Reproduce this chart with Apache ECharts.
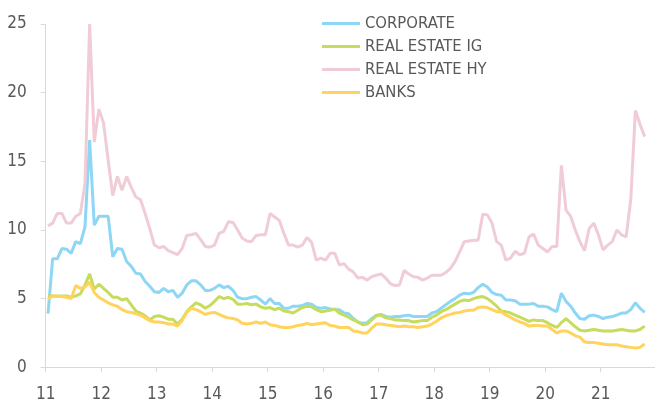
<!DOCTYPE html>
<html>
<head>
<meta charset="utf-8">
<script src="https://cdn.jsdelivr.net/npm/echarts@6/dist/echarts.min.js"></script>
<style>
html,body{margin:0;padding:0;background:#fff;}
#chart{width:655px;height:402px;}
</style>
</head>
<body>
<div id="chart"></div>
<script>
// Monthly observations, Jan 2011 .. Oct 2021
var startYear = 2011, startMonth = 1, monthCount = 130;
var months = [];
for (var i = 0; i < monthCount; i++) {
  var y = startYear + Math.floor((startMonth - 1 + i) / 12);
  var m = (startMonth - 1 + i) % 12 + 1;
  months.push(y + '-' + (m < 10 ? '0' : '') + m);
}

var seriesNames = ['CORPORATE', 'REAL ESTATE IG', 'REAL ESTATE HY', 'BANKS'];
var yTicks = [0, 5, 10, 15, 20, 25];
var xTickLabels = ['11','12','13','14','15','16','17','18','19','20','21'];

var corporate = [
3.9,7.9,7.9,8.65,8.6,8.3,9.15,9.0,10.25,16.55,
10.35,11.0,11.0,11.0,8.05,8.65,8.6,7.7,7.35,6.85,
6.8,6.25,5.9,5.5,5.45,5.75,5.5,5.6,5.1,5.4,
6.0,6.3,6.3,6.0,5.6,5.6,5.75,6.0,5.8,5.9,
5.6,5.1,5.0,5.0,5.1,5.15,4.9,4.6,5.0,4.65,
4.65,4.3,4.3,4.45,4.45,4.5,4.65,4.6,4.35,4.3,
4.35,4.25,4.2,4.2,3.95,3.9,3.55,3.3,3.2,3.25,
3.55,3.8,3.85,3.7,3.65,3.7,3.7,3.75,3.8,3.7,
3.7,3.7,3.7,3.95,4.05,4.3,4.55,4.8,5.0,5.25,
5.4,5.35,5.45,5.8,6.05,5.85,5.45,5.3,5.25,4.9,
4.9,4.85,4.6,4.6,4.6,4.65,4.45,4.45,4.4,4.2,
4.05,5.4,4.8,4.45,3.95,3.55,3.5,3.75,3.8,3.7,
3.55,3.65,3.7,3.8,3.95,3.95,4.2,4.7,4.3,4.0
];
var realEstateIG = [
5.2,5.2,5.2,5.2,5.2,5.1,5.2,5.35,6.0,6.8,
5.7,6.05,5.75,5.45,5.1,5.1,4.9,5.0,4.55,4.1,
3.95,3.75,3.45,3.7,3.75,3.65,3.5,3.5,3.15,3.5,
4.05,4.4,4.7,4.55,4.3,4.5,4.8,5.15,5.0,5.1,
4.95,4.6,4.6,4.65,4.55,4.6,4.4,4.3,4.35,4.2,
4.3,4.1,4.05,3.95,4.15,4.35,4.45,4.4,4.2,4.05,
4.1,4.15,4.25,3.95,3.8,3.65,3.45,3.3,3.1,3.15,
3.45,3.75,3.8,3.6,3.55,3.45,3.45,3.4,3.4,3.3,
3.35,3.4,3.4,3.65,3.8,4.05,4.2,4.4,4.6,4.8,
4.9,4.85,5.0,5.1,5.15,5.0,4.75,4.45,4.1,4.05,
3.95,3.8,3.65,3.5,3.35,3.45,3.4,3.4,3.25,3.05,
2.9,3.25,3.55,3.25,2.95,2.7,2.65,2.7,2.75,2.7,
2.65,2.65,2.65,2.7,2.75,2.7,2.65,2.65,2.75,3.0
];
var realEstateHY = [
10.3,10.5,11.2,11.2,10.5,10.5,11.0,11.2,13.4,25.0,
16.4,18.8,17.8,15.1,12.5,13.9,12.9,13.9,13.1,12.4,
12.2,11.2,10.1,8.9,8.7,8.8,8.5,8.35,8.2,8.65,
9.6,9.65,9.75,9.3,8.8,8.75,8.9,9.75,9.9,10.6,
10.55,10.0,9.4,9.2,9.15,9.6,9.65,9.65,11.2,10.95,
10.7,9.75,8.9,8.9,8.75,8.9,9.45,9.1,7.8,7.95,
7.8,8.3,8.3,7.45,7.55,7.15,6.95,6.5,6.55,6.35,
6.6,6.7,6.8,6.5,6.1,5.95,6.0,7.05,6.8,6.6,
6.55,6.35,6.5,6.7,6.7,6.7,6.9,7.2,7.7,8.4,
9.15,9.2,9.25,9.25,11.15,11.1,10.5,9.15,8.9,7.8,
7.95,8.45,8.2,8.3,9.5,9.7,8.9,8.65,8.4,8.8,
8.8,14.7,11.45,11.0,10.0,9.15,8.5,10.1,10.5,9.65,
8.55,8.9,9.15,10.0,9.65,9.5,12.2,18.7,17.7,16.8
];
var banks = [
4.95,5.2,5.15,5.15,5.1,5.0,5.95,5.75,5.85,6.2,
5.45,5.1,4.9,4.7,4.55,4.45,4.2,4.05,4.0,3.9,
3.8,3.6,3.4,3.3,3.3,3.25,3.15,3.15,3.0,3.4,
4.0,4.3,4.2,4.05,3.85,3.95,4.0,3.85,3.7,3.6,
3.55,3.45,3.2,3.15,3.2,3.3,3.2,3.3,3.1,3.05,
2.95,2.9,2.9,2.95,3.05,3.1,3.2,3.1,3.15,3.2,
3.25,3.05,3.0,2.9,2.9,2.9,2.65,2.6,2.5,2.5,
2.85,3.15,3.15,3.1,3.05,3.0,2.95,3.0,2.95,2.95,
2.9,2.95,3.0,3.15,3.35,3.6,3.75,3.85,3.95,4.0,
4.1,4.15,4.15,4.35,4.4,4.35,4.2,4.05,4.05,3.8,
3.65,3.45,3.3,3.2,3.0,3.05,3.05,3.0,3.0,2.75,
2.5,2.65,2.65,2.5,2.3,2.2,1.85,1.8,1.8,1.75,
1.7,1.65,1.65,1.65,1.55,1.5,1.45,1.4,1.45,1.7
];

var colors = ['#8dd7f5', '#c6dc5c', '#f0ccd6', '#ffd35c'];
var valuesList = [corporate, realEstateIG, realEstateHY, banks];

// month string -> position on a two-digit-year value axis (mid-month)
function monthPos(s) {
  var p = s.split('-');
  return (parseInt(p[0], 10) - 2000) + (parseInt(p[1], 10) - 0.5) / 12;
}

var series = seriesNames.map(function (name, idx) {
  return {
    name: name,
    type: 'line',
    symbol: 'none',
    smooth: false,
    lineStyle: { width: 3, color: colors[idx] },
    itemStyle: { color: colors[idx] },
    data: months.map(function (mo, i) { return [monthPos(mo), valuesList[idx][i]]; })
  };
});

var FONT = '"Liberation Sans Narrow", "DejaVu Sans Condensed", "Liberation Sans", sans-serif';
var chart = echarts.init(document.getElementById('chart'), null, { renderer: 'canvas' });
chart.setOption({
  animation: false,
  backgroundColor: '#ffffff',
  color: colors,
  textStyle: { fontFamily: FONT },
  grid: { left: 45.7, top: 24, width: 610.5, height: 343.3, containLabel: false, outerBoundsMode: 'none' },
  legend: {
    orient: 'vertical',
    left: 317,
    top: 10,
    icon: 'rect',
    itemWidth: 38,
    itemHeight: 3,
    itemGap: 6,
    data: seriesNames,
    textStyle: { color: '#595959', fontSize: 16.5, lineHeight: 17, fontFamily: FONT }
  },
  xAxis: {
    type: 'value',
    min: 11,
    max: 22,
    interval: 1,
    axisLine: { show: true, lineStyle: { color: '#d9d9d9', width: 1 } },
    axisTick: { show: true, length: 5, lineStyle: { color: '#d9d9d9' } },
    splitLine: { show: false },
    axisLabel: {
      color: '#595959', fontSize: 17, margin: 19, fontFamily: FONT,
      showMaxLabel: false,
      formatter: function (v) { var i = Math.round(v) - 11; return xTickLabels[i] !== undefined ? xTickLabels[i] : ''; }
    }
  },
  yAxis: {
    type: 'value',
    min: yTicks[0],
    max: yTicks[yTicks.length - 1],
    interval: 5,
    axisLine: { show: true, lineStyle: { color: '#d9d9d9', width: 1 } },
    axisTick: { show: true, length: 5, lineStyle: { color: '#d9d9d9' } },
    splitLine: { show: false },
    axisLabel: { color: '#595959', fontSize: 17, margin: 19, fontFamily: FONT }
  },
  series: series
});
</script>
</body>
</html>
